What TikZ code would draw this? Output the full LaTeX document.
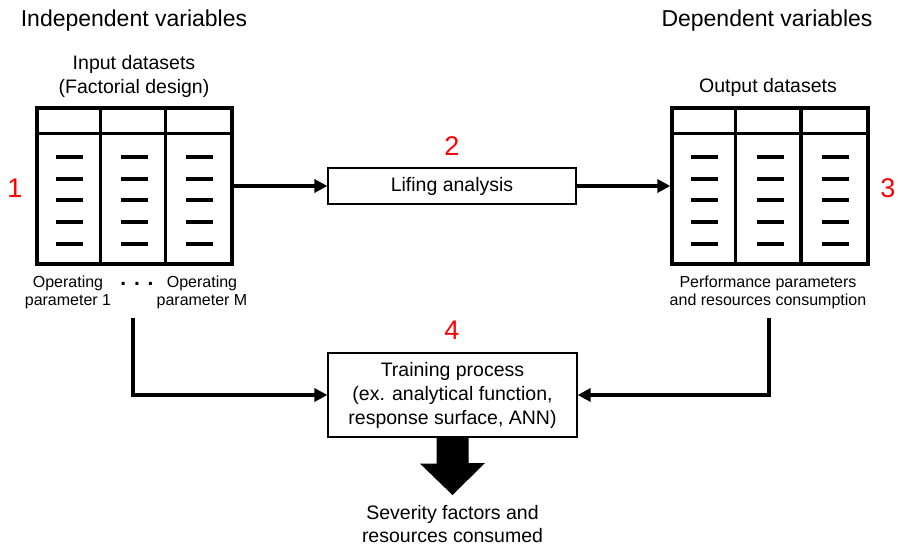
\documentclass[tikz,border=0pt]{standalone}
\usepackage{fontspec}
\setmainfont{Liberation Sans}
\usetikzlibrary{arrows.meta,calc}
\definecolor{numred}{RGB}{255,0,0}
\tikzset{
 tbl/.style={draw, line width=3.3pt, minimum width=195pt, minimum height=156pt, inner sep=0pt},
 tline/.style={line width=3.3pt},
 dashbar/.style={line width=4pt},
 procbox/.style={draw, line width=1.2pt, fill=white, align=center, inner sep=0pt, font=\fontsize{19.5}{24}\selectfont},
 conn/.style={line width=3.5pt, -{Triangle[length=13pt,width=13pt]}},
 title/.style={font=\fontsize{23}{27}\selectfont, anchor=base, inner sep=0pt},
 sub/.style={font=\fontsize{19.5}{24}\selectfont, align=center, inner sep=0pt},
 small/.style={font=\fontsize{16}{18}\selectfont, align=center, inner sep=0pt},
 num/.style={font=\fontsize{27}{30}\selectfont, text=numred, anchor=base, inner sep=0pt},
}
\begin{document}
\begin{tikzpicture}[x=1pt,y=-1pt]
\useasboundingbox (0,0) rectangle (898,548);
% titles
\node[title] (indep) at (134,27) {Independent variables};
\node[title] (dep) at (767,27) {Dependent variables};
\node[sub] (inlbl) at (134,76) {Input datasets\\(Factorial design)};
\node[sub, anchor=base] (outlbl) at (768,93) {Output datasets};
% input table
\node[tbl] (intab) at (134.5,186) {};
\draw[tline] ($(intab.north west)+(0,27)$) -- ($(intab.north east)+(0,27)$);
\draw[tline] ($(intab.north west)+(65,0)$) -- ($(intab.south west)+(65,0)$);
\draw[tline] ($(intab.north west)+(130,0)$) -- ($(intab.south west)+(130,0)$);
\foreach \cx in {69.5,134.5,199.5}
  \foreach \dy in {157,179,200,222,244}
    \draw[dashbar] ({\cx-13.5},\dy) -- ({\cx+13.5},\dy);
% output table
\node[tbl, minimum width=196pt] (outtab) at (770,186) {};
\draw[tline] ($(outtab.north west)+(0,27)$) -- ($(outtab.north east)+(0,27)$);
\draw[tline] ($(outtab.north west)+(65.3,0)$) -- ($(outtab.south west)+(65.3,0)$);
\draw[tline] ($(outtab.north west)+(130.7,0)$) -- ($(outtab.south west)+(130.7,0)$);
\foreach \cx in {704.7,770,835.3}
  \foreach \dy in {157,179,200,222,244}
    \draw[dashbar] ({\cx-13.5},\dy) -- ({\cx+13.5},\dy);
% labels under tables
\node[small] (op1) at (68,292.8) {Operating\\parameter 1};
\node[font=\fontsize{21}{22}\selectfont\bfseries, anchor=base, inner sep=0pt] (dots) at (137,286) {. . .};
\node[small] (opm) at (202,292.8) {Operating\\parameter M};
\node[small] (perf) at (768,292.8) {Performance parameters\\and resources consumption};
% numbers
\node[num] (n1) at (15,197.5) {1};
\node[num] (n2) at (452,155.5) {2};
\node[num] (n3) at (888,197.5) {3};
\node[num] (n4) at (452,339.5) {4};
% process boxes
\node[procbox, minimum width=248pt, minimum height=36pt] (lif) at (452,186) {Lifing analysis};
\node[procbox, minimum width=249pt, minimum height=84pt] (train) at (452.5,395) {Training process\\(ex. analytical function,\\response surface, ANN)};
% connectors
\draw[conn] (intab) -- (lif);
\draw[conn] (lif) -- (outtab);
\coordinate (lstart) at (133,318);
\coordinate (rstart) at (769,318);
\draw[conn] (lstart) |- (train.west);
\draw[conn] (rstart) |- (train.east);
% big arrow
\coordinate (tip) at (452.5,495);
\fill (train.south) ++(-16,0) -- ++(0,26) -- ++(-16.5,0) -- (tip) -- ++(32.5,-32) -- ++(-16.5,0) -- ++(0,-26) -- cycle;
\node[sub, font=\fontsize{19.5}{23}\selectfont] (sev) at (452.5,524.5) {Severity factors and\\resources consumed};
\end{tikzpicture}
\end{document}
